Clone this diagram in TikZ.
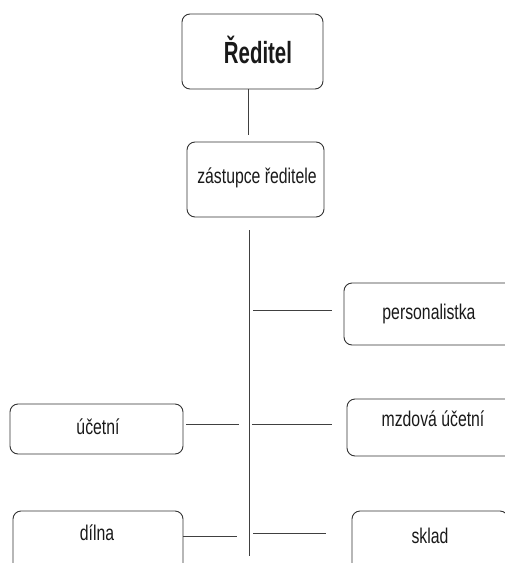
\documentclass[tikz,border=0pt]{standalone}
\usepackage{fontspec}
\setmainfont{Liberation Sans}
\usepackage{graphicx}
\begin{document}
\begin{tikzpicture}[x=1pt,y=-1pt,
  box/.style={draw=black!80, line width=0.9pt, rounded corners=8pt, inner sep=0pt},
  lbl/.style={inner sep=0pt, font=\fontsize{15.8}{18}\selectfont, text=black!90},
  conn/.style={draw=black!75, line width=0.9pt}]
\useasboundingbox (0,0) rectangle (505,563);
\clip (0,0) rectangle (505,563);
% boxes
\node[box, minimum width=141pt, minimum height=75pt] (red) at (252.5,51.5) {};
\node[box, minimum width=137pt, minimum height=75pt] (zas) at (255.5,179.5) {};
\node[box, minimum width=170pt, minimum height=62pt] (per) at (429,314) {};
\node[box, minimum width=173pt, minimum height=50pt] (uce) at (96.5,429) {};
\node[box, minimum width=172pt, minimum height=57pt] (mzd) at (433,427.5) {};
\node[box, minimum width=170pt, minimum height=60pt] (dil) at (98,541) {};
\node[box, minimum width=156pt, minimum height=60pt] (skl) at (430,541) {};
% texts
\node[lbl, font=\fontsize{20.4}{24}\selectfont\bfseries] (tred) at (258,50) {\scalebox{1}[1.5]{Ředitel}};
\node[lbl] (tzas) at (257,178) {\scalebox{1}[1.35]{zástupce ředitele}};
\node[lbl] (tper) at (429,314) {\scalebox{1}[1.35]{personalistka}};
\node[lbl] (tuce) at (98,427) {\scalebox{1}[1.35]{účetní}};
\node[lbl] (tmzd) at (433,419) {\scalebox{1}[1.35]{mzdová účetní}};
\node[lbl] (tdil) at (97,533) {\scalebox{1}[1.35]{dílna}};
\node[lbl] (tskl) at (430,536) {\scalebox{1}[1.35]{sklad}};
% connectors
\coordinate (a1) at (248,89);
\coordinate (a2) at (248,135);
\draw[conn] (red.south -| a1) -- (a2);
\coordinate (t1) at (249,230);
\coordinate (t2) at (249,556);
\draw[conn] (t1) -- (t2);
\coordinate (p1) at (253,310);
\coordinate (p2) at (332,310);
\draw[conn] (p1) -- (p2);
\coordinate (u1) at (186,424);
\coordinate (u2) at (239,424);
\draw[conn] (u1) -- (u2);
\coordinate (m1) at (252,424);
\coordinate (m2) at (332,424);
\draw[conn] (m1) -- (m2);
\coordinate (d1) at (183,536);
\coordinate (d2) at (237,536);
\draw[conn] (d1) -- (d2);
\coordinate (s1) at (253,533);
\coordinate (s2) at (326,533);
\draw[conn] (s1) -- (s2);
\end{tikzpicture}
\end{document}
